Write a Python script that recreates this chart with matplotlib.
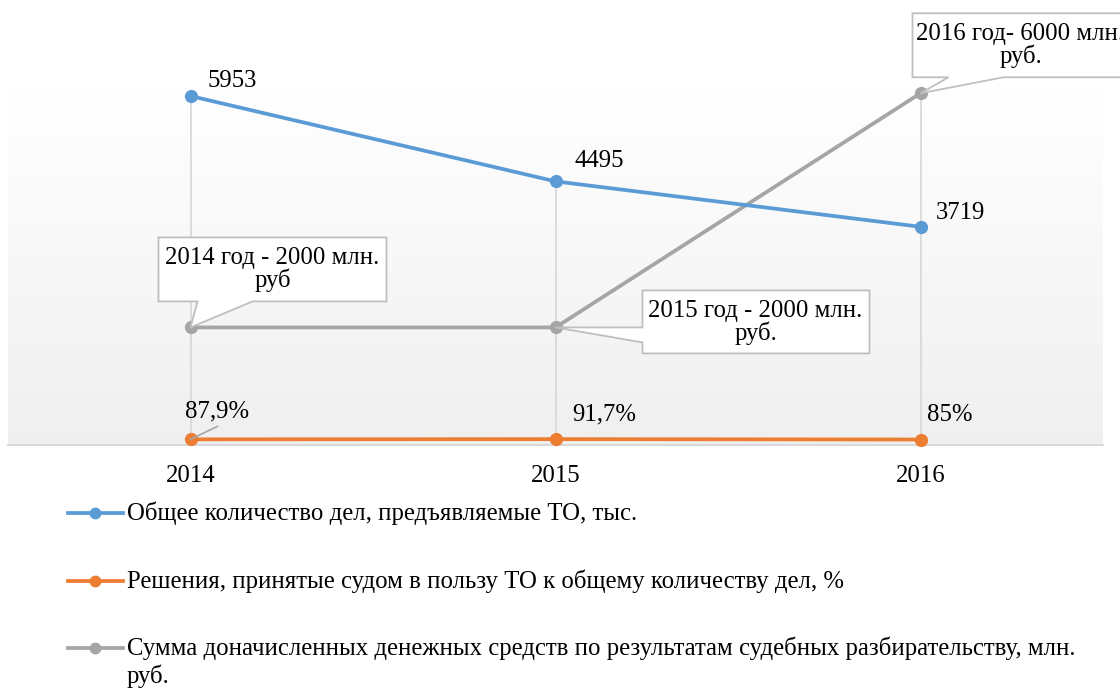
import numpy as np
import matplotlib
matplotlib.use("Agg")
import matplotlib.pyplot as plt
from matplotlib.patches import Polygon
from matplotlib.lines import Line2D

plt.rcParams['font.family'] = ['Liberation Serif', 'DejaVu Serif']

years = ["2014", "2015", "2016"]
cases = [5953, 4495, 3719]
court_share = [87.9, 91.7, 85.0]
court_share_labels = ["87,9%", "91,7%", "85%"]
extra_sum = [2000, 2000, 6000]
extra_sum_labels = ["2014 год - 2000 млн.\nруб", "2015 год - 2000 млн.\nруб.", "2016 год- 6000 млн.\nруб."]
series_names = [
    "Общее количество дел, предъявляемые ТО, тыс.",
    "Решения, принятые судом в пользу ТО к общему количеству дел, %",
    "Сумма доначисленных денежных средств по результатам судебных разбирательству, млн.\nруб.",
]
colors = ["#5B9BD5", "#ED7D31", "#A5A5A5"]

FS = 17.8
W, H = 1120, 689
fig = plt.figure(figsize=(W / 100, H / 100), dpi=100)
ax_left, ax_right, ax_top, ax_bot = 8, 1103, 88, 444.5
ax = fig.add_axes([ax_left / W, 1 - ax_bot / H, (ax_right - ax_left) / W, (ax_bot - ax_top) / H])
x = np.arange(len(years))
ax.set_xlim(-0.5, len(years) - 0.5)
ax.set_ylim(0, 6090)

# gradient background
grad = np.linspace(1.0, 0.0, 256).reshape(-1, 1)
top_c = np.array([1.0, 1.0, 1.0])
bot_c = np.array([0.94, 0.94, 0.94])
img = top_c * grad[..., None] + bot_c * (1 - grad[..., None])
ax.imshow(img, extent=[0, 1, 0, 1], transform=ax.transAxes, aspect='auto', zorder=0)

for s in ["top", "left", "right"]:
    ax.spines[s].set_visible(False)
ax.spines["bottom"].set_color("#d9d9d9")
ax.spines["bottom"].set_linewidth(1.5)
ax.set_yticks([])
ax.set_xticks(x)
ax.set_xticklabels(years, fontsize=FS)
ax.tick_params(axis='x', length=0, pad=15)

# drop lines
vmax = np.maximum(np.maximum(cases, extra_sum), court_share)
ax.vlines(x, 0, vmax, color="#d9d9d9", lw=1.3, zorder=1)

lw = 2.7
ms = 8.5
ax.plot(x, cases, color=colors[0], lw=lw, marker='o', ms=ms, zorder=4, clip_on=False)
ax.plot(x, court_share, color=colors[1], lw=lw, marker='o', ms=ms, zorder=4, clip_on=False)
ax.plot(x, extra_sum, color=colors[2], lw=lw, marker='o', ms=ms, zorder=3, clip_on=False)

fig.canvas.draw()

# data labels for cases
case_offsets = [(17, 9), (19, 14), (15, 8)]
for xi, v, off in zip(x, cases, case_offsets):
    ax.annotate(str(v), (xi, v), xytext=off, textcoords='offset pixels',
                ha='left', va='baseline', fontsize=FS, zorder=6)

# percent labels
pct_offsets = [(-5, 22), (17, 19), (6, 19)]
for i, (xi, v, lab, off) in enumerate(zip(x, court_share, court_share_labels, pct_offsets)):
    ax.annotate(lab, (xi, v), xytext=off, textcoords='offset pixels',
                ha='left', va='baseline', fontsize=FS, zorder=6)
    if i == 0:
        px, py = ax.transData.transform((xi, v))
        ax.add_line(Line2D([px, px + 27], [py, py + 13], transform=None,
                           color="#a6a6a6", lw=1.2, zorder=5))

# callouts (offsets in pixels relative to point, y up)
callout_shapes = [
    [(-32, 26), (-32, 90), (196, 90), (196, 26), (62, 26), (0, 0), (7, 26)],
    [(87, 37), (314, 37), (314, -26), (87, -26), (87, -15), (0, 0), (87, 0)],
    [(-8, 16), (-8, 80), (240, 80), (240, 16), (83, 16), (0, 0), (28, 16)],
]
text_centers = [(82, 58), (200, 5), (100, 48)]
for xi, v, lab, shape, tc in zip(x, extra_sum, extra_sum_labels, callout_shapes, text_centers):
    px, py = ax.transData.transform((xi, v))
    verts = [(px + dx, py + dy) for dx, dy in shape]
    poly = Polygon(verts, closed=True, facecolor='white', edgecolor='#bfbfbf', lw=1.3,
                   transform=None, zorder=7, clip_on=False)
    fig.add_artist(poly)
    fig.text((px + tc[0]) / W, (py + tc[1]) / H, lab, ha='center', va='center',
             fontsize=FS, linespacing=1.0, zorder=8)

# legend (manual)
leg_rows = [513, 581, 648]
for name, c, ry in zip(series_names, colors, leg_rows):
    yy = 1 - ry / H
    fig.add_artist(Line2D([68 / W, 123 / W], [yy, yy], color=c, lw=lw, transform=fig.transFigure))
    fig.add_artist(Line2D([95 / W], [yy], color=c, marker='o', ms=ms - 1, transform=fig.transFigure))
    lines = name.split('\n')
    for k, ln in enumerate(lines):
        fig.text(127 / W, 1 - (ry + 28 * k) / H, ln, ha='left', va='center', fontsize=FS)

fig.savefig("out.png", dpi=100)
